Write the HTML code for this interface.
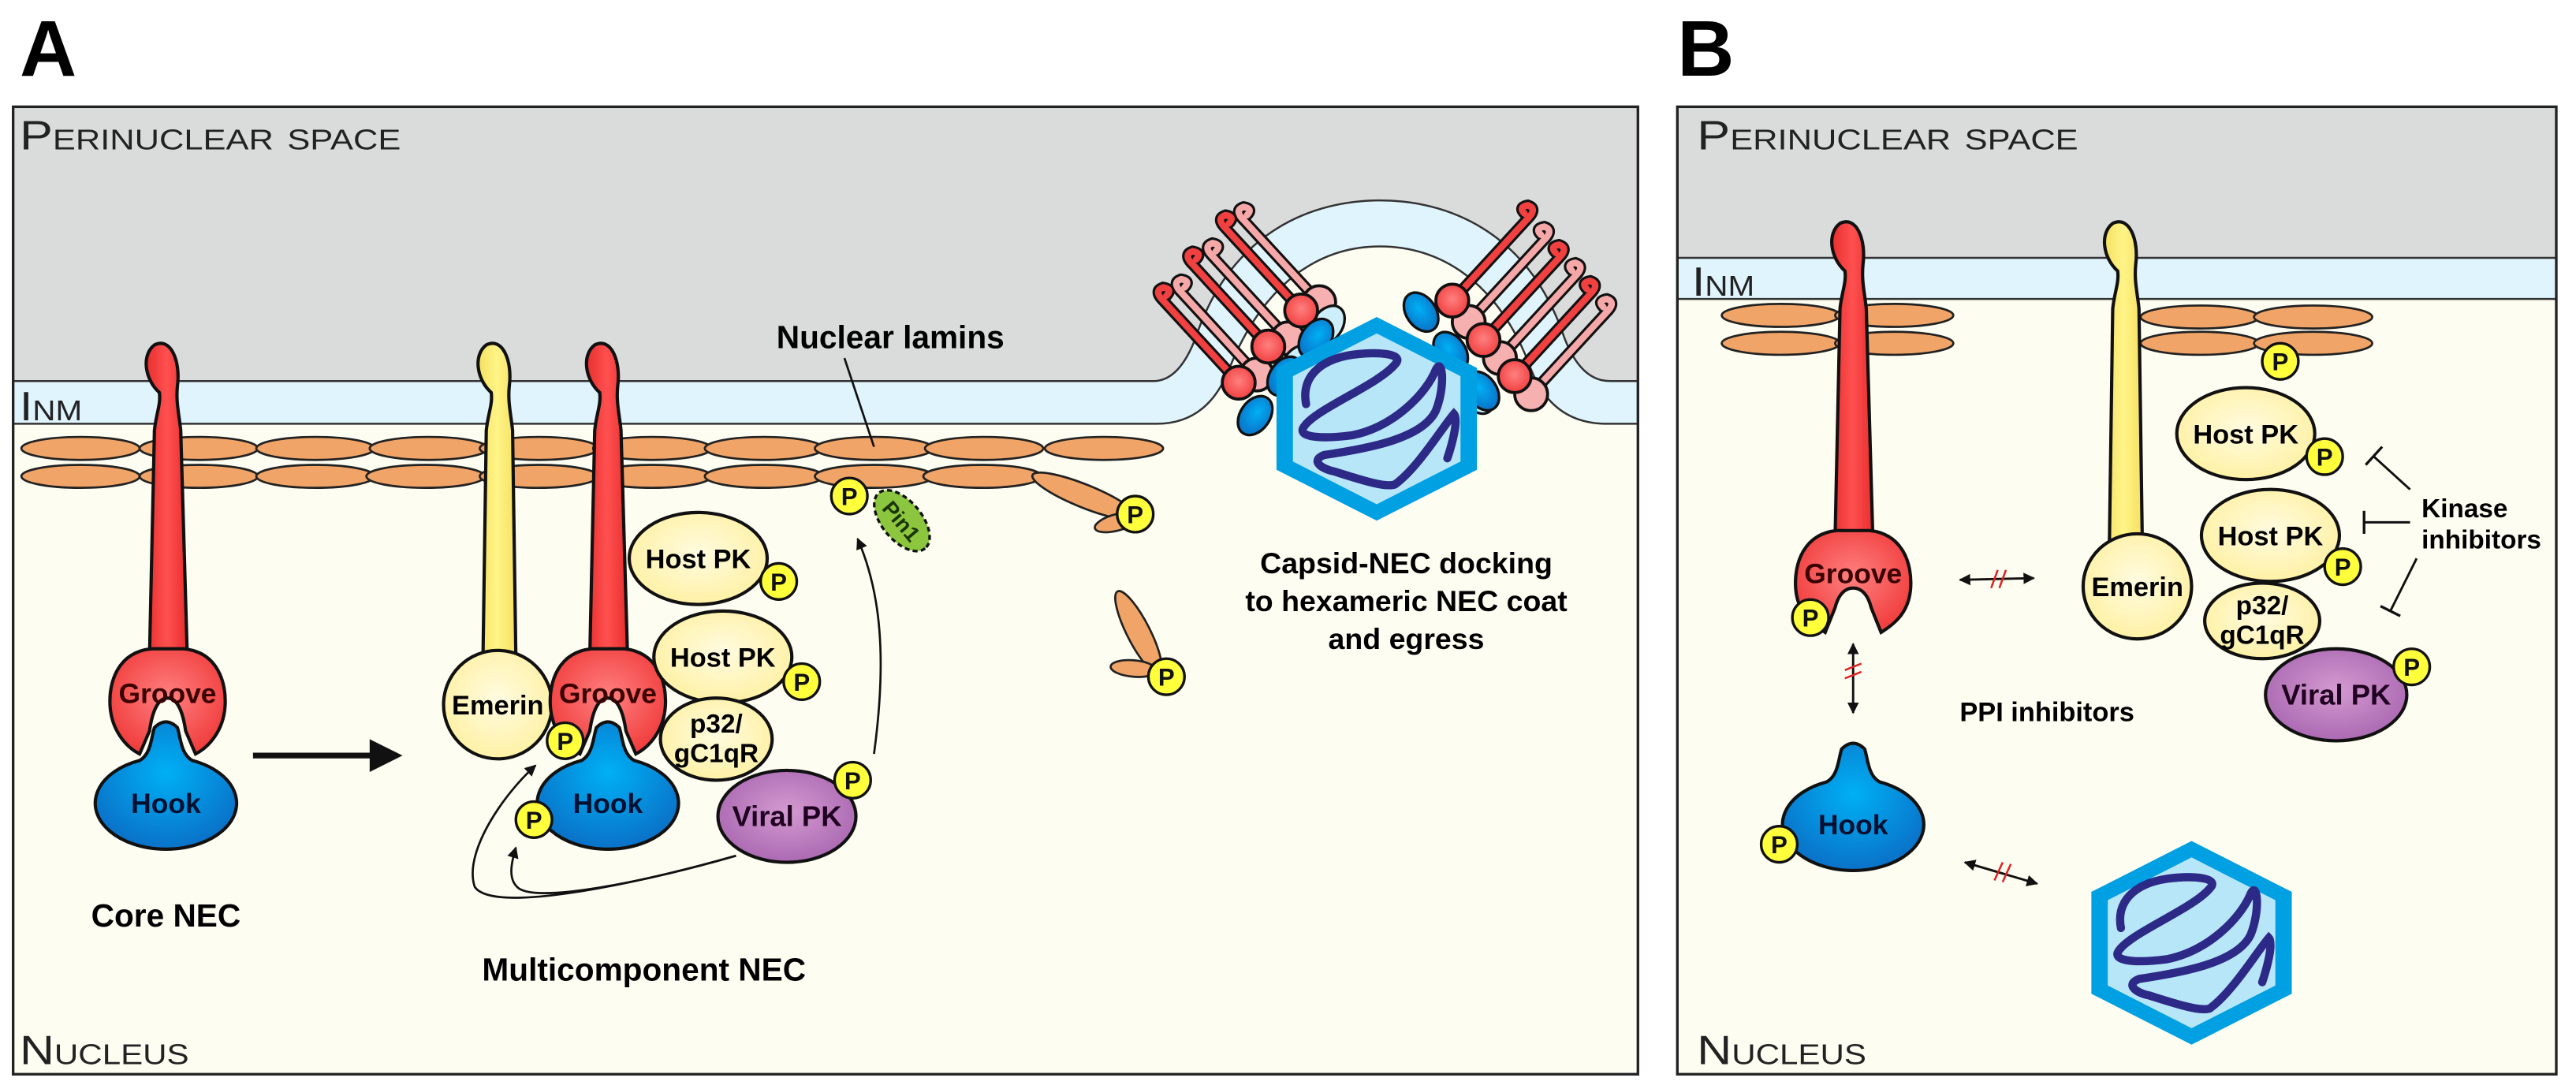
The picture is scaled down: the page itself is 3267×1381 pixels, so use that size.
<!DOCTYPE html>
<html><head><meta charset="utf-8"><style>
html,body{margin:0;padding:0;background:#fff;}
svg{display:block;}
text{font-family:"Liberation Sans",Arial,sans-serif;}
.b{font-weight:bold;}
</style></head><body>
<svg width="3267" height="1381" viewBox="0 0 1568 663" preserveAspectRatio="none" xmlns="http://www.w3.org/2000/svg">
<defs>
<marker id="ah" viewBox="0 0 10 10" refX="9" refY="5" markerWidth="7" markerHeight="7" orient="auto-start-reverse" markerUnits="userSpaceOnUse"><path d="M0,0 L10,5 L0,10 Z" fill="#111"/></marker>
<radialGradient id="gr" cx="0.5" cy="0.45" r="0.6"><stop offset="0" stop-color="#ff8080"/><stop offset="1" stop-color="#f03a3a"/></radialGradient>
<radialGradient id="gb" cx="0.5" cy="0.4" r="0.6"><stop offset="0" stop-color="#00b0f5"/><stop offset="1" stop-color="#0a72c8"/></radialGradient>
<radialGradient id="gy" cx="0.5" cy="0.45" r="0.6"><stop offset="0" stop-color="#fffbe0"/><stop offset="1" stop-color="#fff0a0"/></radialGradient>
<radialGradient id="gv" cx="0.5" cy="0.45" r="0.6"><stop offset="0" stop-color="#d49ad0"/><stop offset="1" stop-color="#a865b0"/></radialGradient>
<linearGradient id="gs" x1="0" x2="1"><stop offset="0" stop-color="#e82e2e"/><stop offset="0.5" stop-color="#ff5050"/><stop offset="1" stop-color="#e82e2e"/></linearGradient>
<linearGradient id="ge" x1="0" x2="1"><stop offset="0" stop-color="#f5e060"/><stop offset="0.5" stop-color="#fff488"/><stop offset="1" stop-color="#f5e060"/></linearGradient>
<g id="P"><circle r="11" fill="#ffff3c" stroke="#111" stroke-width="1.6"/><text y="5.5" text-anchor="middle" font-size="15" class="b" fill="#111">P</text></g>
<g id="lam"><ellipse rx="36" ry="7" fill="#f1a468" stroke="#222" stroke-width="1.3"/></g>
<g id="hook"><path d="M-16,-26 C-9,-30 -9,-40 -7,-46 Q0,-53 7,-46 C9,-40 9,-30 16,-26 A43 28 0 1 1 -16,-26 Z" fill="url(#gb)" stroke="#111" stroke-width="2"/></g>
<g id="groove"><path d="M-10,-30 C-30,-28 -36,-10 -35,5 C-34,20 -25,30 -17,34 L-11,20 C-9,6 -5,0 0,0 C5,0 9,6 11,20 L17,34 C25,30 34,20 35,5 C36,-10 30,-28 10,-30 Z" fill="url(#gr)" stroke="#111" stroke-width="2"/></g>
<g id="hex"><polygon points="0,-62 61,-31 61,31 0,62 -61,31 -61,-31" fill="#00a0e2"/><polygon points="0,-52 51,-26 51,26 0,52 -51,26 -51,-26" fill="#b8e6f9"/>
<path d="M-43,-9 C-46,-25 -35,-36 -15,-39 C0,-41 18,-40 11,-33 C0,-20 -40,-5 -45,6 C-47,12 -30,12 -15,10 C10,5 30,-15 36,-30 C40,-38 42,-20 36,-5 C28,12 -5,18 -32,22 C-40,25 -35,30 -26,32 C-10,37 5,42 11,40 C25,30 40,5 47,-3 C50,0 46,15 43,24" fill="none" stroke="#2d2a87" stroke-width="5" stroke-linecap="round"/></g>
<g id="lolR"><path d="M0,0 L-46,-50 Q-52,-56 -46,-58 Q-40,-57 -44,-53" fill="none" stroke="#111" stroke-width="7" stroke-linecap="round"/><path d="M0,0 L-46,-50 Q-52,-56 -46,-58 Q-40,-57 -44,-53" fill="none" stroke="#f04040" stroke-width="4" stroke-linecap="round"/><circle r="10" fill="url(#gr)" stroke="#111" stroke-width="1.8"/></g>
<g id="lolP"><path d="M0,0 L-46,-50 Q-52,-56 -46,-58 Q-40,-57 -44,-53" fill="none" stroke="#111" stroke-width="7" stroke-linecap="round"/><path d="M0,0 L-46,-50 Q-52,-56 -46,-58 Q-40,-57 -44,-53" fill="none" stroke="#f6a8a8" stroke-width="4" stroke-linecap="round"/><circle r="10" fill="#f7b0b0" stroke="#111" stroke-width="1.8"/></g>
</defs>

<text x="12" y="46" font-size="48" class="b">A</text>
<text x="1021" y="46" font-size="48" class="b">B</text>

<!-- ===== PANEL A ===== -->
<rect x="8" y="65" width="989" height="589" fill="#fefdf2"/>
<path d="M8,65 H997 V232 H980 Q962,232 952,205 C930,140 880,122 840,122 C800,122 750,140 728,205 Q718,232 702,232 H8 Z" fill="#dadcdc"/>
<path d="M8,232 H702 Q718,232 728,205 C750,140 800,122 840,122 C880,122 930,140 952,205 Q962,232 980,232 H997 V258 H978 Q945,258 932,225 C912,170 875,150 840,150 C805,150 770,170 748,225 Q735,258 704,258 H8 Z" fill="#e0f4fd"/>
<path d="M8,232 H702 Q718,232 728,205 C750,140 800,122 840,122 C880,122 930,140 952,205 Q962,232 980,232 H997" fill="none" stroke="#333" stroke-width="1.2"/>
<path d="M8,258 H704 Q735,258 748,225 C770,170 805,150 840,150 C875,150 912,170 932,225 Q945,258 978,258 H997" fill="none" stroke="#333" stroke-width="1.2"/>
<rect x="8" y="65" width="989" height="589" fill="none" stroke="#222" stroke-width="1.6"/>

<text x="12" y="91" font-size="25" style="font-variant:small-caps" textLength="232" lengthAdjust="spacingAndGlyphs" fill="#222">Perinuclear space</text>
<text x="12" y="256" font-size="25" style="font-variant:small-caps" textLength="38" lengthAdjust="spacingAndGlyphs" fill="#222">Inm</text>
<text x="12" y="648" font-size="25" style="font-variant:small-caps" textLength="103" lengthAdjust="spacingAndGlyphs" fill="#222">Nucleus</text>

<use href="#lam" x="49" y="273"/><use href="#lam" x="121" y="273"/><use href="#lam" x="192" y="273"/><use href="#lam" x="261" y="273"/><use href="#lam" x="328" y="273"/><use href="#lam" x="397" y="273"/><use href="#lam" x="465" y="273"/><use href="#lam" x="532" y="273"/><use href="#lam" x="599" y="273"/><use href="#lam" x="672" y="273"/>
<use href="#lam" x="49" y="290"/><use href="#lam" x="121" y="290"/><use href="#lam" x="192" y="290"/><use href="#lam" x="259" y="290"/><use href="#lam" x="328" y="290"/><use href="#lam" x="397" y="290"/><use href="#lam" x="465" y="290"/><use href="#lam" x="532" y="290"/><use href="#lam" x="598" y="290"/>
<ellipse cx="660" cy="302" rx="34" ry="7" transform="rotate(22 660 302)" fill="#f1a468" stroke="#222" stroke-width="1.3"/>
<ellipse cx="680" cy="318" rx="14" ry="5" transform="rotate(-15 680 318)" fill="#f1a468" stroke="#222" stroke-width="1.3"/>
<use href="#P" x="691" y="313"/>
<ellipse cx="693" cy="385" rx="28" ry="7" transform="rotate(63 693 385)" fill="#f1a468" stroke="#222" stroke-width="1.3"/>
<ellipse cx="690" cy="407" rx="14" ry="5" transform="rotate(5 690 407)" fill="#f1a468" stroke="#222" stroke-width="1.3"/>
<use href="#P" x="710" y="412"/>

<text x="542" y="212" font-size="19.5" class="b" text-anchor="middle">Nuclear lamins</text>
<line x1="514" y1="218" x2="532" y2="272" stroke="#111" stroke-width="1.3"/>

<!-- Core NEC -->
<path d="M91,400 L94,262 C95,252 98,246 97,239 C88,231 86,216 94,210 C104,205 110,220 108,235 C107,245 109,252 110,262 L114,400 Z" fill="url(#gs)" stroke="#111" stroke-width="2"/>
<use href="#groove" x="102" y="425"/>
<use href="#hook" x="101" y="489"/>
<text x="102" y="428" font-size="17" class="b" text-anchor="middle" fill="#3a0000">Groove</text>
<text x="101" y="495" font-size="17" class="b" text-anchor="middle" fill="#001030">Hook</text>
<text x="101" y="564" font-size="19.5" class="b" text-anchor="middle">Core NEC</text>
<line x1="154" y1="460" x2="228" y2="460" stroke="#111" stroke-width="3.5"/>
<polygon points="225,450 245,460 225,470" fill="#111"/>

<!-- Multicomponent NEC -->
<path d="M294,400 L296,262 C297,252 300,246 299,239 C290,231 288,216 296,210 C306,205 312,220 310,235 C309,245 311,252 312,262 L314,400 Z" fill="url(#ge)" stroke="#111" stroke-width="2"/>
<ellipse cx="303" cy="429" rx="33" ry="33" fill="url(#gy)" stroke="#111" stroke-width="2"/>
<text x="303" y="435" font-size="16.5" class="b" text-anchor="middle">Emerin</text>
<path d="M359,400 L362,262 C363,252 366,246 365,239 C356,231 354,216 362,210 C372,205 378,220 376,235 C375,245 377,252 378,262 L382,400 Z" fill="url(#gs)" stroke="#111" stroke-width="2"/>
<use href="#groove" x="370" y="425"/>
<text x="370" y="428" font-size="17" class="b" text-anchor="middle" fill="#3a0000">Groove</text>
<use href="#hook" x="370" y="489"/>
<text x="370" y="495" font-size="17" class="b" text-anchor="middle" fill="#001030">Hook</text>
<ellipse cx="425" cy="340" rx="42" ry="28" fill="url(#gy)" stroke="#111" stroke-width="2"/>
<text x="425" y="346" font-size="16.5" class="b" text-anchor="middle">Host PK</text>
<use href="#P" x="474" y="354"/>
<ellipse cx="440" cy="400" rx="42" ry="28" fill="url(#gy)" stroke="#111" stroke-width="2"/>
<text x="440" y="406" font-size="16.5" class="b" text-anchor="middle">Host PK</text>
<use href="#P" x="488" y="415"/>
<ellipse cx="436" cy="450" rx="34" ry="25" fill="url(#gy)" stroke="#111" stroke-width="2"/>
<text x="436" y="446" font-size="16" class="b" text-anchor="middle">p32/</text>
<text x="436" y="464" font-size="16" class="b" text-anchor="middle">gC1qR</text>
<ellipse cx="479" cy="497" rx="42" ry="28" fill="url(#gv)" stroke="#111" stroke-width="2"/>
<text x="479" y="503" font-size="17.5" class="b" text-anchor="middle" fill="#200020">Viral PK</text>
<use href="#P" x="519" y="475"/>
<use href="#P" x="344" y="451"/>
<use href="#P" x="325" y="499"/>
<ellipse cx="549" cy="317" rx="22" ry="12" transform="rotate(50 549 317)" fill="#8cc63f" stroke="#111" stroke-width="1.6" stroke-dasharray="3,2"/>
<text x="549" y="322" font-size="13" class="b" text-anchor="middle" transform="rotate(50 549 317)" fill="#1a3300">Pin1</text>
<use href="#P" x="517" y="302"/>
<path d="M532,459 C540,400 536,360 522,328" fill="none" stroke="#111" stroke-width="1.3" marker-end="url(#ah)"/>
<path d="M448,521 C380,540 300,556 289,540 C282,520 305,485 326,466" fill="none" stroke="#111" stroke-width="1.3" marker-end="url(#ah)"/>
<path d="M448,521 C400,535 330,550 316,541 C309,536 311,526 314,516" fill="none" stroke="#111" stroke-width="1.3" marker-end="url(#ah)"/>
<text x="392" y="597" font-size="19.5" class="b" text-anchor="middle">Multicomponent NEC</text>

<!-- Capsid docking A -->
<use href="#lolP" x="803" y="184"/><use href="#lolP" x="784" y="206"/><use href="#lolP" x="765" y="228"/>
<ellipse cx="808" cy="198" rx="9" ry="13" transform="rotate(35 808 198)" fill="#cdeefb" stroke="#111" stroke-width="1.6"/>
<ellipse cx="790" cy="222" rx="9" ry="13" transform="rotate(35 790 222)" fill="#cdeefb" stroke="#111" stroke-width="1.6"/>
<use href="#lolR" x="792" y="189"/><use href="#lolR" x="772" y="211"/><use href="#lolR" x="754" y="233"/>
<ellipse cx="801" cy="206" rx="9" ry="13" transform="rotate(35 801 206)" fill="url(#gb)" stroke="#111" stroke-width="1.6"/>
<ellipse cx="782" cy="229" rx="9" ry="13" transform="rotate(35 782 229)" fill="url(#gb)" stroke="#111" stroke-width="1.6"/>
<ellipse cx="764" cy="253" rx="9" ry="13" transform="rotate(35 764 253)" fill="url(#gb)" stroke="#111" stroke-width="1.6"/>
<g transform="translate(1745 0) scale(-1 1)">
<use href="#lolP" x="851" y="196"/><use href="#lolP" x="832" y="218"/><use href="#lolP" x="813" y="240"/>
<ellipse cx="846" cy="240" rx="9" ry="13" transform="rotate(35 846 240)" fill="#cdeefb" stroke="#111" stroke-width="1.6"/>
<use href="#lolR" x="861" y="183"/><use href="#lolR" x="842" y="207"/><use href="#lolR" x="823" y="229"/>
<ellipse cx="880" cy="190" rx="9" ry="13" transform="rotate(35 880 190)" fill="url(#gb)" stroke="#111" stroke-width="1.6"/>
<ellipse cx="862" cy="214" rx="9" ry="13" transform="rotate(35 862 214)" fill="url(#gb)" stroke="#111" stroke-width="1.6"/>
<ellipse cx="843" cy="238" rx="9" ry="13" transform="rotate(35 843 238)" fill="url(#gb)" stroke="#111" stroke-width="1.6"/>
</g>
<use href="#hex" x="838" y="255"/>
<text x="856" y="349" font-size="18" class="b" text-anchor="middle">Capsid-NEC docking</text>
<text x="856" y="372" font-size="18" class="b" text-anchor="middle">to hexameric NEC coat</text>
<text x="856" y="395" font-size="18" class="b" text-anchor="middle">and egress</text>

<!-- ===== PANEL B ===== -->
<rect x="1021" y="65" width="535" height="589" fill="#fefdf2"/>
<rect x="1021" y="65" width="535" height="92" fill="#dadcdc"/>
<rect x="1021" y="157" width="535" height="25" fill="#e0f4fd"/>
<line x1="1021" y1="157" x2="1556" y2="157" stroke="#333" stroke-width="1.2"/>
<line x1="1021" y1="182" x2="1556" y2="182" stroke="#333" stroke-width="1.2"/>
<rect x="1021" y="65" width="535" height="589" fill="none" stroke="#222" stroke-width="1.6"/>
<text x="1033" y="91" font-size="25" style="font-variant:small-caps" textLength="232" lengthAdjust="spacingAndGlyphs" fill="#222">Perinuclear space</text>
<text x="1030" y="180" font-size="25" style="font-variant:small-caps" textLength="38" lengthAdjust="spacingAndGlyphs" fill="#222">Inm</text>
<text x="1033" y="648" font-size="25" style="font-variant:small-caps" textLength="103" lengthAdjust="spacingAndGlyphs" fill="#222">Nucleus</text>

<use href="#lam" x="1084" y="192"/><use href="#lam" x="1153" y="192"/><use href="#lam" x="1084" y="209"/><use href="#lam" x="1153" y="209"/>
<use href="#lam" x="1339" y="193"/><use href="#lam" x="1408" y="193"/><use href="#lam" x="1339" y="209"/><use href="#lam" x="1408" y="209"/>
<use href="#P" x="1388" y="220"/>

<path d="M1117,328 L1120,188 C1121,178 1124,172 1123,165 C1114,157 1112,142 1120,136 C1130,131 1136,146 1134,161 C1133,171 1135,178 1136,188 L1140,328 Z" fill="url(#gs)" stroke="#111" stroke-width="2"/>
<path d="M1118,323 C1098,325 1092,343 1093,358 C1094,373 1103,380 1111,385 L1117,370 C1119,362 1123,358 1128,358 C1133,358 1137,362 1139,370 L1145,385 C1153,380 1162,373 1163,358 C1164,343 1158,325 1138,323 Z" fill="url(#gr)" stroke="#111" stroke-width="2"/>
<text x="1128" y="355" font-size="17" class="b" text-anchor="middle" fill="#3a0000">Groove</text>
<use href="#P" x="1102" y="376"/>
<line x1="1128" y1="392" x2="1128" y2="434" stroke="#111" stroke-width="1.4" marker-start="url(#ah)" marker-end="url(#ah)"/>
<path d="M1123,408 L1133,404 M1123,413 L1133,409" stroke="#e02020" stroke-width="1.2"/>
<use href="#hook" x="1128" y="502"/>
<text x="1128" y="508" font-size="17" class="b" text-anchor="middle" fill="#001030">Hook</text>
<use href="#P" x="1083" y="514"/>

<path d="M1284,330 L1286,188 C1287,178 1290,172 1289,165 C1280,157 1278,142 1286,136 C1296,131 1302,146 1300,161 C1299,171 1301,178 1302,188 L1304,330 Z" fill="url(#ge)" stroke="#111" stroke-width="2"/>
<ellipse cx="1301" cy="357" rx="33" ry="32" fill="url(#gy)" stroke="#111" stroke-width="2"/>
<text x="1301" y="363" font-size="16.5" class="b" text-anchor="middle">Emerin</text>

<ellipse cx="1367" cy="264" rx="42" ry="28" fill="url(#gy)" stroke="#111" stroke-width="2"/>
<text x="1367" y="270" font-size="16.5" class="b" text-anchor="middle">Host PK</text>
<use href="#P" x="1415" y="278"/>
<ellipse cx="1382" cy="326" rx="42" ry="28" fill="url(#gy)" stroke="#111" stroke-width="2"/>
<text x="1382" y="332" font-size="16.5" class="b" text-anchor="middle">Host PK</text>
<ellipse cx="1377" cy="378" rx="35" ry="23" fill="url(#gy)" stroke="#111" stroke-width="2"/>
<text x="1377" y="374" font-size="16" class="b" text-anchor="middle">p32/</text>
<text x="1377" y="392" font-size="16" class="b" text-anchor="middle">gC1qR</text>
<use href="#P" x="1426" y="345"/>
<ellipse cx="1422" cy="423" rx="43" ry="28" fill="url(#gv)" stroke="#111" stroke-width="2"/>
<text x="1422" y="429" font-size="17.5" class="b" text-anchor="middle" fill="#200020">Viral PK</text>
<use href="#P" x="1468" y="406"/>

<text x="1474" y="315" font-size="16" class="b">Kinase</text>
<text x="1474" y="334" font-size="16" class="b">inhibitors</text>
<line x1="1467" y1="298" x2="1445" y2="278" stroke="#111" stroke-width="1.4"/>
<line x1="1440" y1="283" x2="1450" y2="272" stroke="#111" stroke-width="1.6"/>
<line x1="1467" y1="318" x2="1439" y2="318" stroke="#111" stroke-width="1.4"/>
<line x1="1439" y1="311" x2="1439" y2="325" stroke="#111" stroke-width="1.6"/>
<line x1="1471" y1="340" x2="1455" y2="372" stroke="#111" stroke-width="1.4"/>
<line x1="1449" y1="369" x2="1461" y2="375" stroke="#111" stroke-width="1.6"/>

<line x1="1193" y1="353" x2="1238" y2="352" stroke="#111" stroke-width="1.4" marker-start="url(#ah)" marker-end="url(#ah)"/>
<path d="M1212,358 L1216,347 M1217,358 L1221,347" stroke="#e02020" stroke-width="1.2"/>
<text x="1246" y="439" font-size="16.5" class="b" text-anchor="middle">PPI inhibitors</text>
<line x1="1196" y1="525" x2="1240" y2="538" stroke="#111" stroke-width="1.4" marker-start="url(#ah)" marker-end="url(#ah)"/>
<path d="M1214,536 L1219,525 M1219,537 L1224,526" stroke="#e02020" stroke-width="1.2"/>

<use href="#hex" x="1334" y="574"/>
</svg>
</body></html>
